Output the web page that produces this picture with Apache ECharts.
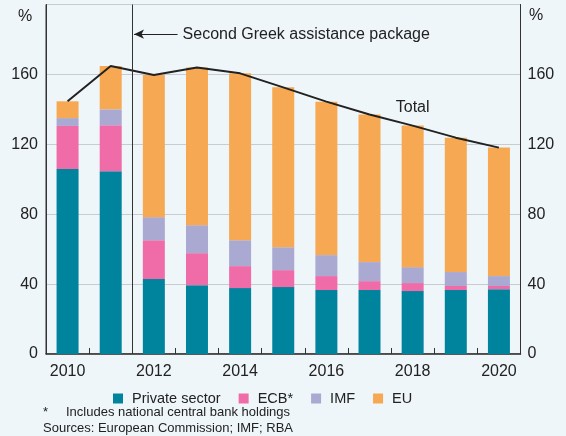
<!DOCTYPE html>
<html><head><meta charset="utf-8">
<script src="https://cdn.jsdelivr.net/npm/echarts@6/dist/echarts.min.js"></script>
<style>html,body{margin:0;padding:0;background:#EFF6F9;}#c{width:566px;height:436px;}</style>
</head><body><div id="c"></div>
<script>
const years = ['2010','2011','2012','2013','2014','2015','2016','2017','2018','2019','2020'];
const privateSector = [105.9,104.6,42.9,39.4,37.7,38.3,36.6,36.6,36.0,36.6,37.1];
const ecb = [24.6,26.3,22.2,18.3,12.6,9.7,8.0,5.1,4.6,2.3,1.8];
const imf = [4.5,9.1,13.2,16.0,14.8,13.1,12.0,10.9,9.1,8.0,5.7];
const eu = [9.6,24.8,81.3,90.3,95.5,91.5,87.8,84.5,81.0,76.9,73.5];
const totals = [144.6,164.8,159.6,164.0,160.6,152.6,144.4,137.1,130.7,123.8,118.1];
const yTicks = [0,40,80,120,160];
const FONT = 'Liberation Sans';
const chart = echarts.init(document.getElementById('c'));
const barCommon = {type:'bar', stack:'s', barWidth:22, xAxisIndex:0, yAxisIndex:0};
const yAxisCommon = {
  type:'value', min:0, max:200, interval:40,
  axisLine:{show:true,onZero:false,lineStyle:{color:'#333'}},
  axisTick:{show:false}
};
chart.setOption({
  backgroundColor:'#EFF6F9',
  animation:false,
  textStyle:{fontFamily:FONT},
  grid:{left:46,right:45.5,top:4.5,bottom:82,show:true,borderColor:'#333',borderWidth:1,backgroundColor:'transparent'},
  legend:{
    data:['Private sector','ECB*','IMF','EU'],
    left:108, top:386, itemWidth:10, itemHeight:10, itemGap:18, icon:'rect',
    textStyle:{fontFamily:FONT,fontSize:14.5,color:'#222',padding:[0,0,0,4]}
  },
  xAxis:[{
    type:'category', data:years, boundaryGap:true,
    axisLine:{onZero:false,lineStyle:{color:'#333',width:1.5}},
    axisTick:{show:true,inside:true,length:6,interval:0,lineStyle:{color:'#333'}},
    axisLabel:{interval:1,fontFamily:FONT,fontSize:16,color:'#222',margin:10}
  },{
    type:'value', min:-0.5, max:10.5, show:false
  }],
  yAxis:[Object.assign({
    position:'left',
    splitLine:{lineStyle:{color:'#c8ccd0',width:1}},
    axisLabel:{showMaxLabel:false,fontFamily:FONT,fontSize:16,color:'#222',margin:8,
      formatter:v=>yTicks.includes(v)?String(v):''}
  },yAxisCommon),Object.assign({
    position:'right',
    splitLine:{show:false},
    axisLabel:{showMaxLabel:false,fontFamily:FONT,fontSize:16,color:'#222',margin:7,
      formatter:v=>yTicks.includes(v)?String(v):''}
  },yAxisCommon)],
  series:[
    Object.assign({name:'Private sector',data:privateSector,itemStyle:{color:'#00849E'}},barCommon),
    Object.assign({name:'ECB*',data:ecb,itemStyle:{color:'#F06CA9'}},barCommon),
    Object.assign({name:'IMF',data:imf,itemStyle:{color:'#A9A9D1'}},barCommon),
    Object.assign({name:'EU',data:eu,itemStyle:{color:'#F6A852'}},barCommon),
    {name:'Total',type:'line',data:totals,symbol:'none',xAxisIndex:0,yAxisIndex:0,
     lineStyle:{color:'#222',width:2},
     markPoint:{symbolSize:0,data:[{coord:[8,141],label:{show:true,formatter:'Total',fontFamily:FONT,fontSize:16,color:'#222',position:'inside'}}]}
    },
    {name:'annot',type:'scatter',data:[[-1,-10]],xAxisIndex:1,yAxisIndex:0,symbolSize:0,silent:true,
     markLine:{silent:true,symbol:['none','none'],label:{show:false},
       data:[
         [{coord:[1.5,0],lineStyle:{color:'#333',width:1,type:'solid'}},{coord:[1.5,200]}],
         [{coord:[2.55,183],symbol:'none',lineStyle:{color:'#222',width:1,type:'solid'}},
          {coord:[1.54,183],symbol:'arrow',symbolSize:[7,10],
           label:{show:true,position:'start',formatter:'Second Greek assistance package',fontFamily:FONT,fontSize:16,color:'#222',distance:5}}]
       ]}
    }
  ],
  graphic:[
    {type:'text',left:18,top:9,style:{text:'%',fontFamily:FONT,fontSize:16,fill:'#222'}},
    {type:'text',left:529,top:8,style:{text:'%',fontFamily:FONT,fontSize:16,fill:'#222'}},
    {type:'text',left:43,top:406,style:{text:'*',fontFamily:FONT,fontSize:13,fill:'#222'}},
    {type:'text',left:66,top:406,style:{text:'Includes national central bank holdings',fontFamily:FONT,fontSize:13,fill:'#222'}},
    {type:'text',left:43,top:422,style:{text:'Sources: European Commission; IMF; RBA',fontFamily:FONT,fontSize:13,fill:'#222'}}
  ]
});
</script></body></html>
